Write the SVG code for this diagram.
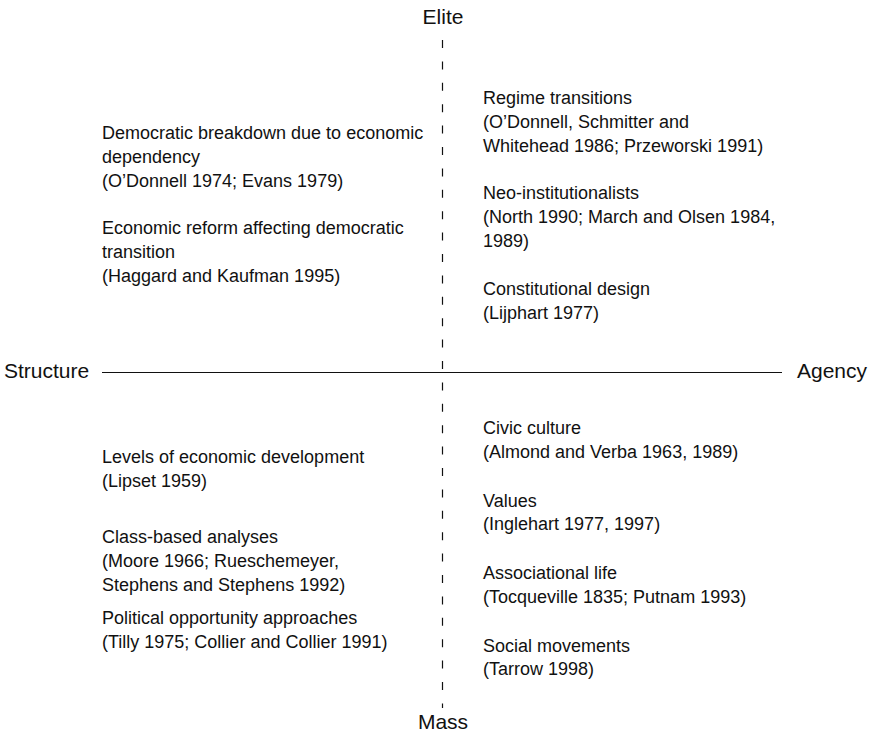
<svg xmlns="http://www.w3.org/2000/svg" width="872" height="734" viewBox="0 0 872 734">
<style>
text{font-family:"Liberation Sans",Arial,Helvetica,sans-serif;fill:#111;}
.t{font-size:18px;}
.ax{font-size:21px;}
.axis{stroke:#111;stroke-width:1.2;fill:none;}
.dash{stroke:#111;stroke-width:1.2;fill:none;stroke-dasharray:8 13.4;}
</style>
<rect width="872" height="734" fill="#fff"/>
<g id="connectors">
<line class="axis" x1="102" y1="372.5" x2="782" y2="372.5"/>
<line class="dash" x1="442.5" y1="40" x2="442.5" y2="708"/>
</g>
<g id="axis-elite"><text class="ax" x="443" y="23.5" text-anchor="middle">Elite</text></g>
<g id="axis-mass"><text class="ax" x="443" y="729" text-anchor="middle">Mass</text></g>
<g id="axis-structure"><text class="ax" x="4" y="377.5">Structure</text></g>
<g id="axis-agency"><text class="ax" x="797" y="377.5">Agency</text></g>

<g id="node-breakdown"><text class="t" x="102"><tspan x="102" y="139.3">Democratic breakdown due to economic</tspan><tspan x="102" y="163.3">dependency</tspan><tspan x="102" y="187.3">(O’Donnell 1974; Evans 1979)</tspan></text></g>
<g id="node-reform"><text class="t" x="102"><tspan x="102" y="233.5">Economic reform affecting democratic</tspan><tspan x="102" y="257.5">transition</tspan><tspan x="102" y="281.5">(Haggard and Kaufman 1995)</tspan></text></g>

<g id="node-regime"><text class="t" x="483"><tspan x="483" y="104.3">Regime transitions</tspan><tspan x="483" y="128.3">(O’Donnell, Schmitter and</tspan><tspan x="483" y="152.3">Whitehead 1986; Przeworski 1991)</tspan></text></g>
<g id="node-neo"><text class="t" x="483"><tspan x="483" y="199">Neo-institutionalists</tspan><tspan x="483" y="223">(North 1990; March and Olsen 1984,</tspan><tspan x="483" y="247">1989)</tspan></text></g>
<g id="node-constitutional"><text class="t" x="483"><tspan x="483" y="295">Constitutional design</tspan><tspan x="483" y="319">(Lijphart 1977)</tspan></text></g>

<g id="node-levels"><text class="t" x="102"><tspan x="102" y="462.7">Levels of economic development</tspan><tspan x="102" y="486.5">(Lipset 1959)</tspan></text></g>
<g id="node-class"><text class="t" x="102"><tspan x="102" y="543.3">Class-based analyses</tspan><tspan x="102" y="567">(Moore 1966; Rueschemeyer,</tspan><tspan x="102" y="591">Stephens and Stephens 1992)</tspan></text></g>
<g id="node-political"><text class="t" x="102"><tspan x="102" y="624.3">Political opportunity approaches</tspan><tspan x="102" y="648.3">(Tilly 1975; Collier and Collier 1991)</tspan></text></g>

<g id="node-civic"><text class="t" x="483"><tspan x="483" y="434.3">Civic culture</tspan><tspan x="483" y="458">(Almond and Verba 1963, 1989)</tspan></text></g>
<g id="node-values"><text class="t" x="483"><tspan x="483" y="506.7">Values</tspan><tspan x="483" y="530.3">(Inglehart 1977, 1997)</tspan></text></g>
<g id="node-associational"><text class="t" x="483"><tspan x="483" y="579">Associational life</tspan><tspan x="483" y="603.3">(Tocqueville 1835; Putnam 1993)</tspan></text></g>
<g id="node-social"><text class="t" x="483"><tspan x="483" y="651.7">Social movements</tspan><tspan x="483" y="675.3">(Tarrow 1998)</tspan></text></g>
</svg>
